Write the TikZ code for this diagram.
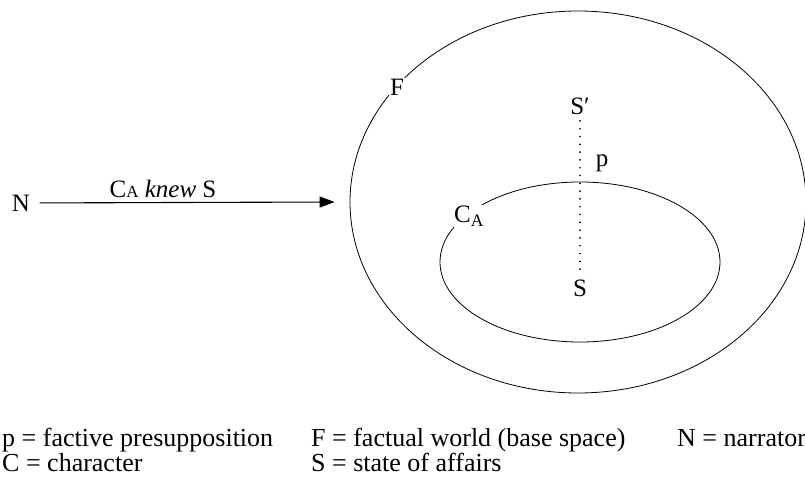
\documentclass[tikz,border=0pt]{standalone}
\usepackage{fontspec}
\setmainfont{Liberation Serif}
\usetikzlibrary{arrows.meta, positioning, shapes.geometric}

\begin{document}
\begin{tikzpicture}[
x=1pt, y=-1pt,
font=\fontsize{25}{27}\selectfont,
space/.style={ellipse, draw=black, line width=0.8pt, inner sep=0pt},
tag/.style={fill=white, inner sep=1pt},
key/.style={anchor=base west, inner sep=0pt, font=\fontsize{26}{28}\selectfont},
line/.style={-{Triangle[length=15pt, width=11pt]}, line width=1.1pt},
link/.style={line width=1.9pt, line cap=round, dash pattern=on 0pt off 7.8pt}
]
\useasboundingbox (0,0) rectangle (805,481);

% mental spaces
\node[space, minimum width=456pt, minimum height=382pt] (base) at (578,202) {};
\node[space, minimum width=280pt, minimum height=160pt] (belief) at (580,262) {};
\node[tag] (f) at (397,87) {F};
\node[tag] (ca) at (469,216) {C\textsubscript{A}};

% narrator's utterance
\node (n) at (21,203) {N};
\draw[line, shorten <=6pt] (n) -- node[pos=0.43, above=1pt] {C{\fontsize{17}{17}\selectfont A} \textit{knew} S} ([xshift=-15pt]base.west);

% factive link
\node (sp) at (580,106) {S′};
\node (s) at (580,288) {S};
\node (p) at (602,163) {p};
\draw[link] ([yshift=-3pt]sp.south) -- ([yshift=4pt]s.north);

% legend
\node[key] (kp) at (2,446) {p = factive presupposition};
\node[key] (kf) at (311,446) {F = factual world (base space)};
\node[key] (kn) at (677,446) {N = narrator};
\node[key] (kc) at (2,471) {C = character};
\node[key] (ks) at (311,471) {S = state of affairs};
\end{tikzpicture}
\end{document}
